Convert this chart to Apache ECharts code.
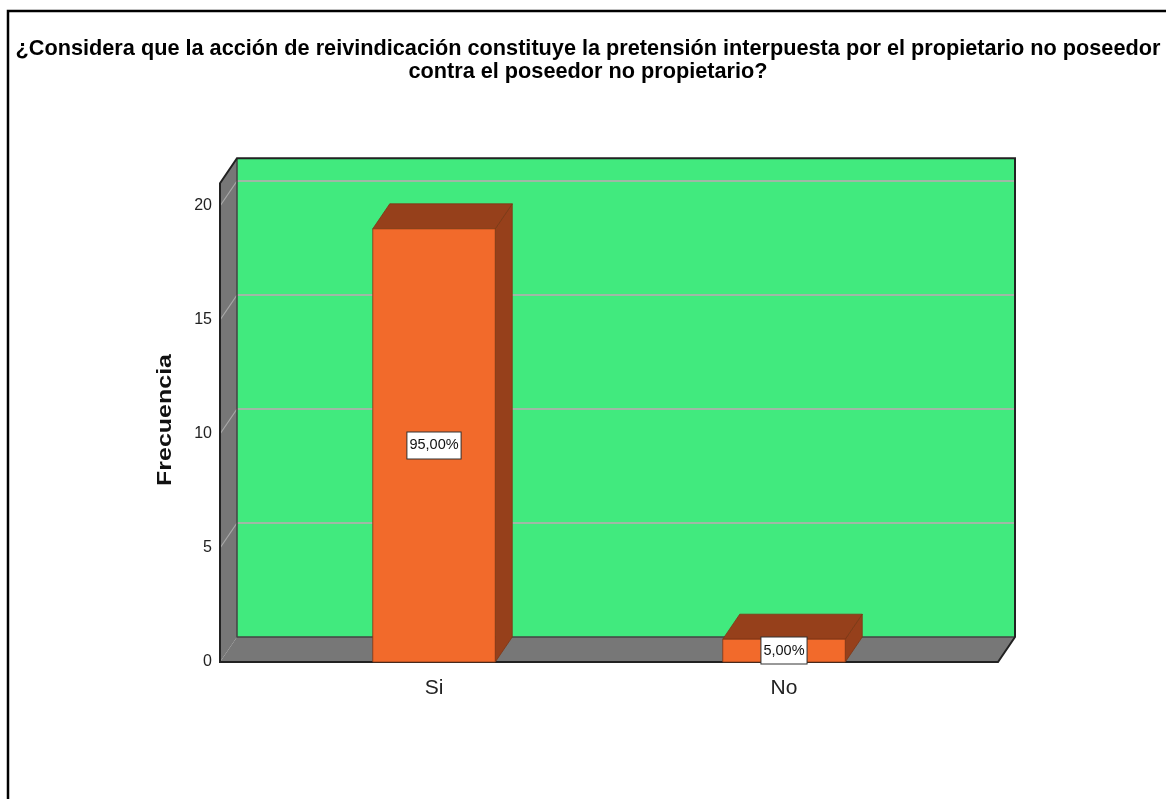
<!DOCTYPE html>
<html>
<head>
<meta charset="utf-8">
<script src="https://cdn.jsdelivr.net/npm/echarts@6/dist/echarts.min.js"></script>
<style>
  html, body { margin: 0; padding: 0; background: #fff; }
  #main { width: 1166px; height: 799px; }
</style>
</head>
<body>
<div id="main"></div>
<script>
// datos del grafico
var categories = ['Si', 'No'];
var counts = [19, 1];
var percentLabels = ['95,00%', '5,00%'];
var yTicks = [5, 10, 15, 20];
var titleLines = [
    '¿Considera que la acción de reivindicación constituye la pretensión interpuesta por el propietario no poseedor',
    'contra el poseedor no propietario?'
];

// estilo 3D (pixeles)
var DX = 17, DY = -25;       // profundidad
var PAD = 39;                // margen del piso fuera de las categorias
var WALL_TOP = 21;           // altura de las paredes (en unidades del eje)
var FONT = 'Liberation Sans, Arial, sans-serif';

var chartDom = document.getElementById('main');
var myChart = echarts.init(chartDom);

function renderWalls(params, api) {
    var cs = params.coordSys;
    var x0 = cs.x - PAD, x1 = cs.x + cs.width + PAD;
    var yb = api.coord([0, 0])[1];
    var yt = api.coord([0, WALL_TOP])[1];
    var children = [];
    // pared del fondo
    children.push({
        type: 'rect',
        shape: { x: x0 + DX, y: yt + DY, width: x1 - x0, height: yb - yt },
        style: { fill: '#41EA7E' }
    });
    // pared izquierda
    children.push({
        type: 'polygon',
        shape: { points: [[x0, yt], [x0 + DX, yt + DY], [x0 + DX, yb + DY], [x0, yb]] },
        style: { fill: '#777777' }
    });
    // piso
    children.push({
        type: 'polygon',
        shape: { points: [[x0, yb], [x1, yb], [x1 + DX, yb + DY], [x0 + DX, yb + DY]] },
        style: { fill: '#777777' }
    });
    // lineas de cuadricula
    yTicks.forEach(function (v) {
        var y = api.coord([0, v])[1];
        children.push({
            type: 'line',
            shape: { x1: x0 + DX, y1: y + DY, x2: x1 + DX, y2: y + DY },
            style: { stroke: '#9FB8A6', lineWidth: 2 }
        });
        children.push({
            type: 'line',
            shape: { x1: x0, y1: y, x2: x0 + DX, y2: y + DY },
            style: { stroke: '#A8A8A8', lineWidth: 1.2 }
        });
    });
    // bordes interiores
    children.push({
        type: 'polyline',
        shape: { points: [[x0 + DX, yt + DY], [x0 + DX, yb + DY], [x1 + DX, yb + DY]] },
        style: { stroke: '#444', lineWidth: 1.5, fill: null }
    });
    // contorno
    children.push({
        type: 'polygon',
        shape: { points: [[x0, yb], [x0, yt], [x0 + DX, yt + DY], [x1 + DX, yt + DY], [x1 + DX, yb + DY], [x1, yb]] },
        style: { stroke: '#222', lineWidth: 2, fill: null }
    });
    return { type: 'group', children: children };
}

function renderBar(params, api) {
    var top = api.coord([api.value(0), api.value(1)]);
    var base = api.coord([api.value(0), 0]);
    var w = api.size([1, 0])[0] * 0.35;
    var xl = top[0] - w / 2, xr = top[0] + w / 2;
    var yt = top[1], yb = base[1];
    var dark = '#96401B';
    var edge = '#7E3615';
    return {
        type: 'group',
        children: [
            {
                type: 'polygon',
                shape: { points: [[xr, yt], [xr, yb], [xr + DX, yb + DY], [xr + DX, yt + DY]] },
                style: { fill: dark, stroke: edge, lineWidth: 0.8 }
            },
            {
                type: 'polygon',
                shape: { points: [[xl, yt], [xr, yt], [xr + DX, yt + DY], [xl + DX, yt + DY]] },
                style: { fill: dark, stroke: edge, lineWidth: 0.8 }
            },
            {
                type: 'rect',
                shape: { x: xl, y: yt, width: w, height: yb - yt },
                style: { fill: '#F26A2B', stroke: edge, lineWidth: 0.8 }
            },
            {
                type: 'text',
                x: top[0],
                y: (yt + yb) / 2,
                style: {
                    text: percentLabels[params.dataIndex],
                    align: 'center',
                    verticalAlign: 'middle',
                    fontFamily: FONT,
                    fontSize: 14.5,
                    fill: '#111',
                    backgroundColor: '#fff',
                    borderColor: '#333',
                    borderWidth: 1,
                    padding: [6, 2, 5, 2]
                }
            }
        ]
    };
}

var option = {
    backgroundColor: '#fff',
    animation: false,
    title: {
        text: titleLines.join('\n'),
        left: 583,
        top: 33,
        textAlign: 'center',
        textStyle: {
            fontFamily: FONT,
            fontSize: 21.7,
            fontWeight: 'bold',
            color: '#000',
            lineHeight: 23,
            align: 'center'
        }
    },
    grid: {
        left: 259,
        right: 207,
        top: 206,
        bottom: 137
    },
    xAxis: {
        type: 'category',
        data: categories,
        axisLine: { show: false },
        axisTick: { show: false },
        axisLabel: {
            margin: 16,
            fontFamily: FONT,
            fontSize: 21,
            color: '#222'
        },
        splitLine: { show: false }
    },
    yAxis: {
        type: 'value',
        min: 0,
        max: 20,
        interval: 5,
        offset: PAD,
        axisLine: { show: false },
        axisTick: { show: false },
        splitLine: { show: false },
        axisLabel: {
            margin: 8,
            fontFamily: FONT,
            fontSize: 16,
            color: '#222'
        }
    },
    graphic: [
        {
            type: 'rect',
            shape: { x: 8, y: 11, width: 1200, height: 850 },
            style: { fill: null, stroke: '#000', lineWidth: 2.5 },
            silent: true
        },
        {
            type: 'text',
            x: 165,
            y: 420,
            rotation: Math.PI / 2,
            scaleX: 1.25,
            style: {
                text: 'Frecuencia',
                align: 'center',
                verticalAlign: 'middle',
                fontFamily: FONT,
                fontSize: 20,
                fontWeight: 'bold',
                fill: '#111'
            }
        }
    ],
    series: [
        {
            type: 'custom',
            name: 'fondo',
            z: 1,
            silent: true,
            renderItem: renderWalls,
            data: [[0, 0]]
        },
        {
            type: 'custom',
            name: 'Frecuencia',
            z: 2,
            renderItem: renderBar,
            data: counts.map(function (v, i) { return [i, v]; })
        }
    ]
};

option && myChart.setOption(option);
</script>
</body>
</html>
